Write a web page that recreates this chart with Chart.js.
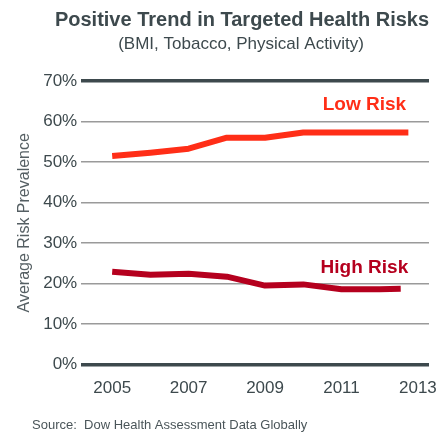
<!DOCTYPE html>
<html lang="en">
<head>
<meta charset="UTF-8">
<title>Positive Trend in Targeted Health Risks</title>
<style>
    html, body {
        margin: 0;
        padding: 0;
        background: #ffffff;
    }
    .wrap {
        position: relative;
        width: 441px;
        height: 433px;
    }
</style>
<script src="https://cdn.jsdelivr.net/npm/chart.js"></script>
</head>
<body>
<div class="wrap">
    <canvas id="trendChart" width="441" height="433"></canvas>
</div>
<script>
    // data
    const yearTicks = [2005, 2007, 2009, 2011, 2013];
    const lowYears = [2005, 2006, 2007, 2008, 2009, 2010, 2011, 2012, 2012.75];
    const lowRisk = [51.5, 52.3, 53.3, 56.0, 56.0, 57.3, 57.3, 57.3, 57.3];
    const highYears = [2005, 2006, 2007, 2008, 2009, 2010, 2011, 2012, 2012.55];
    const highRisk = [22.9, 22.2, 22.4, 21.7, 19.5, 19.8, 18.6, 18.6, 18.7];
    const yTicks = [0, 10, 20, 30, 40, 50, 60, 70];

    const lowColor = '#ff2e17';
    const highColor = '#b5001e';
    const ink = '#3d494d';
    const font = '"Liberation Sans", Arial, sans-serif';

    // title block and source line
    const textBlock = {
        id: 'textBlock',
        afterDraw(chart) {
            const c = chart.ctx;
            c.save();
            c.textAlign = 'center';
            c.textBaseline = 'middle';
            c.fillStyle = ink;
            c.font = 'bold 20px ' + font;
            c.fillText('Positive Trend in Targeted Health Risks', 242, 20);
            c.font = '17px ' + font;
            c.fillText('(BMI, Tobacco, Physical Activity)', 241, 44);
            c.textAlign = 'left';
            c.font = '13px ' + font;
            c.fillStyle = '#4a5559';
            c.fillText('Source:  Dow Health Assessment Data Globally', 32, 425);
            c.restore();
        }
    };

    // series name written next to each line
    const lineLabels = {
        id: 'lineLabels',
        afterDatasetsDraw(chart) {
            const c = chart.ctx;
            const x = chart.scales.x;
            const y = chart.scales.y;
            c.save();
            c.font = 'bold 19px ' + font;
            c.textAlign = 'center';
            c.textBaseline = 'middle';
            c.fillStyle = lowColor;
            c.fillText('Low Risk', x.getPixelForValue(2011.6), y.getPixelForValue(64.2));
            c.fillStyle = highColor;
            c.fillText('High Risk', x.getPixelForValue(2011.6), y.getPixelForValue(23.8));
            c.restore();
        }
    };

    const ctx = document.getElementById('trendChart').getContext('2d');
    const trendChart = new Chart(ctx, {
        type: 'line',
        data: {
            datasets: [{
                label: 'Low Risk',
                data: lowYears.map((yr, i) => ({ x: yr, y: lowRisk[i] })),
                borderColor: lowColor,
                borderWidth: 6,
                pointRadius: 0,
                borderJoinStyle: 'round'
            }, {
                label: 'High Risk',
                data: highYears.map((yr, i) => ({ x: yr, y: highRisk[i] })),
                borderColor: highColor,
                borderWidth: 6,
                pointRadius: 0,
                borderJoinStyle: 'round'
            }]
        },
        options: {
            responsive: false,
            animation: false,
            layout: {
                autoPadding: false,
                padding: { left: 15, right: 12, top: 81, bottom: 20 }
            },
            plugins: {
                legend: { display: false },
                tooltip: { enabled: false },
                title: { display: false }
            },
            scales: {
                x: {
                    type: 'linear',
                    min: 2004.19,
                    max: 2013.29,
                    afterBuildTicks: (axis) => {
                        axis.ticks = yearTicks.map(v => ({ value: v }));
                    },
                    afterFit: (axis) => {
                        // let the 2013 label hang past the plot edge
                        axis.paddingLeft = 0;
                        axis.paddingRight = 0;
                    },
                    grid: { display: false, drawTicks: false },
                    border: { display: false },
                    ticks: {
                        color: ink,
                        font: { family: font, size: 17 },
                        padding: 14,
                        maxRotation: 0,
                        callback: (v) => String(v)
                    }
                },
                y: {
                    min: 0,
                    max: 70,
                    afterBuildTicks: (axis) => {
                        axis.ticks = yTicks.map(v => ({ value: v }));
                    },
                    border: { display: false },
                    grid: {
                        drawTicks: false,
                        color: (c) => (c.tick.value === 0 || c.tick.value === 70) ? ink : '#9a9a9a',
                        lineWidth: (c) => (c.tick.value === 0 || c.tick.value === 70) ? 3.5 : 1.5
                    },
                    ticks: {
                        color: ink,
                        font: { family: font, size: 17 },
                        padding: 4,
                        callback: (v) => v + '%'
                    },
                    title: {
                        display: true,
                        text: 'Average Risk Prevalence',
                        color: '#555f63',
                        font: { family: font, size: 16 },
                        padding: { top: 0, bottom: 5 }
                    }
                }
            }
        },
        plugins: [lineLabels, textBlock]
    });
</script>
</body>
</html>
